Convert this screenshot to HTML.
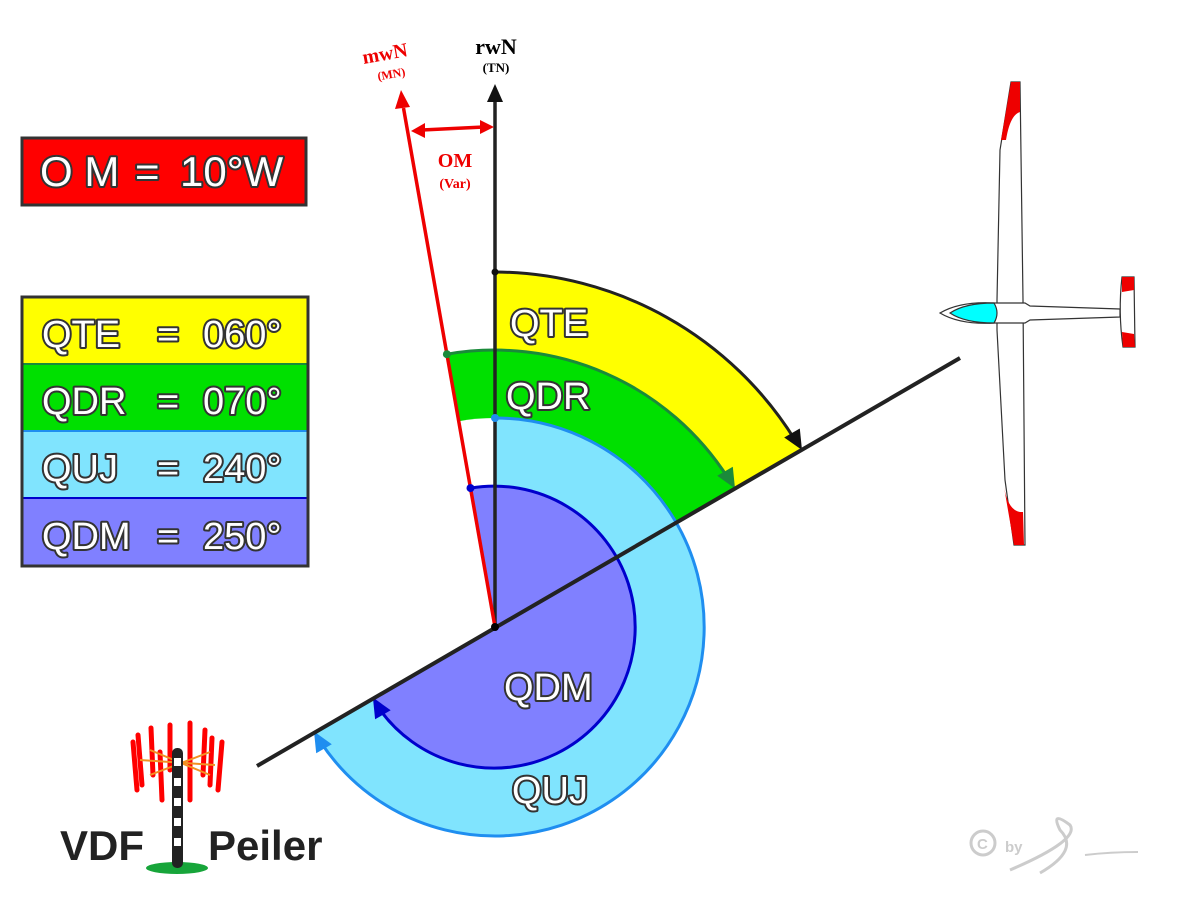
<!DOCTYPE html>
<html><head><meta charset="utf-8"><style>body{margin:0;background:#fff}svg{display:block}
.t{font-family:"Liberation Sans",sans-serif;fill:#fff;stroke:#333;stroke-width:4px;paint-order:stroke;stroke-linejoin:round;font-size:38px}
</style></head><body>
<svg width="1200" height="909" viewBox="0 0 1200 909" xmlns="http://www.w3.org/2000/svg">
<path d="M495,627 L495,272 A355,355 0 0 1 802.4,449.5 Z" fill="#ffff00"/>
<path d="M495,627 L446.9,354.2 A277,277 0 0 1 734.9,488.5 Z" fill="#00e000"/>
<path d="M495,627 L458.7,421.2 A209,209 0 0 1 495,418 Z" fill="#fff"/>
<path d="M495,627 L495,418 A209,209 0 1 1 314,731.5 Z" fill="#80e4fe"/>
<path d="M495,627 L470.5,488.1 A141,141 0 1 1 372.9,697.5 Z" fill="#8080ff"/>
<path d="M495,272 A355,355 0 0 1 795,440" fill="none" stroke="#222" stroke-width="3"/>
<polygon points="802,450 784.2,437.5 799.8,428.5" fill="#111"/>
<path d="M446.9,354.2 A277,277 0 0 1 728,478" fill="none" stroke="#1a8a3a" stroke-width="3"/>
<polygon points="735,488.5 717.2,475.7 732.8,466.7" fill="#1a8a3a"/>
<path d="M495,418 A209,209 0 1 1 320,741" fill="none" stroke="#1f8ef0" stroke-width="3"/>
<polygon points="314,731.5 331.8,744.3 316.2,753.3" fill="#1f8ef0"/>
<path d="M470.5,488.1 A141,141 0 1 1 378,707" fill="none" stroke="#0000cc" stroke-width="3"/>
<polygon points="372.9,697.5 390.7,710.3 375.1,719.3" fill="#0000cc"/>
<line x1="257" y1="766" x2="960" y2="358" stroke="#222" stroke-width="4"/>
<line x1="495" y1="627" x2="495" y2="100" stroke="#222" stroke-width="3.5"/>
<polygon points="495,84 487,102 503,102" fill="#111"/>
<line x1="495" y1="627" x2="403.5" y2="108" stroke="#e00" stroke-width="3.5"/>
<polygon points="401,90 395,109 410,107" fill="#e00"/>
<line x1="422" y1="130" x2="484" y2="127" stroke="#e00" stroke-width="3.5"/>
<polygon points="411,131 425,123 425,138" fill="#e00"/>
<polygon points="494,127 480,120 480,134" fill="#e00"/>
<circle cx="495" cy="627" r="4" fill="#000"/>
<circle cx="495" cy="272" r="3.5" fill="#111"/>
<circle cx="446.9" cy="354.2" r="4" fill="#1a8a3a"/>
<circle cx="495" cy="418" r="4" fill="#1f8ef0"/>
<circle cx="470.5" cy="488.1" r="4" fill="#0000cc"/>
<text x="496" y="54" text-anchor="middle" font-family="Liberation Serif,serif" font-weight="bold" font-size="22">rwN</text>
<text x="496" y="72" text-anchor="middle" font-family="Liberation Serif,serif" font-weight="bold" font-size="13">(TN)</text>
<text x="386" y="60" text-anchor="middle" font-family="Liberation Serif,serif" font-weight="bold" font-size="20" fill="#e00" transform="rotate(-10 386 60)">mwN</text>
<text x="392" y="78" text-anchor="middle" font-family="Liberation Serif,serif" font-weight="bold" font-size="12" fill="#e00" transform="rotate(-10 392 78)">(MN)</text>
<text x="455" y="167" text-anchor="middle" font-family="Liberation Serif,serif" font-weight="bold" font-size="20" fill="#e00">OM</text>
<text x="455" y="188" text-anchor="middle" font-family="Liberation Serif,serif" font-weight="bold" font-size="14" fill="#e00">(Var)</text>
<text class="t" x="510" y="336">QTE</text>
<text class="t" x="506" y="409">QDR</text>
<text class="t" x="504" y="700">QDM</text>
<text class="t" x="512" y="803">QUJ</text>
<rect x="22" y="138" width="284" height="67" fill="#f00" stroke="#333" stroke-width="3"/>
<text class="t" x="40" y="186" style="font-size:42px">O M</text>
<text class="t" x="135" y="186" style="font-size:42px">=</text>
<text class="t" x="180" y="186" style="font-size:42px">10°W</text>
<rect x="22" y="297" width="286" height="67" fill="#ffff00"/>
<rect x="22" y="364" width="286" height="67" fill="#00e000"/>
<rect x="22" y="431" width="286" height="67" fill="#80e4fe"/>
<rect x="22" y="498" width="286" height="68" fill="#8080ff"/>
<line x1="22" y1="364" x2="308" y2="364" stroke="#1a8a3a" stroke-width="2"/>
<line x1="22" y1="431" x2="308" y2="431" stroke="#1f8ef0" stroke-width="2"/>
<line x1="22" y1="498" x2="308" y2="498" stroke="#0000cc" stroke-width="2"/>
<rect x="22" y="297" width="286" height="269" fill="none" stroke="#333" stroke-width="3"/>
<text class="t" x="42" y="347">QTE</text><text class="t" x="157" y="347">=</text><text class="t" x="203" y="347">060°</text>
<text class="t" x="42" y="414">QDR</text><text class="t" x="157" y="414">=</text><text class="t" x="203" y="414">070°</text>
<text class="t" x="42" y="481">QUJ</text><text class="t" x="157" y="481">=</text><text class="t" x="203" y="481">240°</text>
<text class="t" x="42" y="549">QDM</text><text class="t" x="157" y="549">=</text><text class="t" x="203" y="549">250°</text>
<g stroke="#f00" stroke-width="5" stroke-linecap="round">
<line x1="133" y1="742" x2="137" y2="790"/><line x1="138" y1="735" x2="142" y2="785"/><line x1="151" y1="728" x2="153" y2="775"/>
<line x1="160" y1="752" x2="162" y2="800"/><line x1="170" y1="725" x2="170" y2="770"/><line x1="190" y1="723" x2="190" y2="800"/>
<line x1="205" y1="730" x2="203" y2="775"/><line x1="212" y1="738" x2="210" y2="785"/><line x1="222" y1="742" x2="218" y2="790"/>
</g>
<g stroke="#f39020" stroke-width="2"><line x1="140" y1="760" x2="215" y2="765"/><line x1="150" y1="750" x2="210" y2="775"/><line x1="150" y1="775" x2="210" y2="752"/></g>
<ellipse cx="177" cy="868" rx="31" ry="6" fill="#17a53a"/>
<rect x="172" y="748" width="11" height="120" rx="5" fill="#222"/>
<g fill="#fff"><rect x="174" y="758" width="7" height="8"/><rect x="174" y="778" width="7" height="8"/><rect x="174" y="798" width="7" height="8"/><rect x="174" y="818" width="7" height="8"/><rect x="174" y="838" width="7" height="8"/></g>
<text x="60" y="860" font-family="Liberation Sans,sans-serif" font-weight="bold" font-size="42" fill="#222">VDF</text>
<text x="208" y="860" font-family="Liberation Sans,sans-serif" font-weight="bold" font-size="42" fill="#222">Peiler</text>
<g stroke="#333" stroke-width="1.2">
<path d="M1011,82 L1020,82 L1023,300 L1025,545 L1014,545 L1005,480 L997,330 L997,300 L1000,150 Z" fill="#fff"/>
<path d="M1001,140 L1011,82 L1020,82 L1020,112 Q1010,115 1006,140 Z" fill="#e00" stroke="none"/>
<path d="M1004,487 Q1008,510 1020,512 L1023,512 L1024,545 L1014,545 Z" fill="#e00" stroke="none"/>
<path d="M940,313 Q960,301 995,303 L1025,303 L1030,306 L1120,309 L1120,317 L1030,320 L1025,323 L995,323 Q960,325 940,313 Z" fill="#fff"/>
<path d="M950,313 Q965,303 994,303 Q1000,313 994,323 Q965,323 950,313 Z" fill="#0ff"/>
<path d="M1122,277 L1134,277 L1135,347 L1123,347 Q1118,312 1122,277 Z" fill="#fff"/>
<path d="M1122,277 L1134,277 L1134,290 L1122,292 Z" fill="#e00" stroke="none"/>
<path d="M1123,347 L1135,347 L1134,334 L1122,332 Z" fill="#e00" stroke="none"/>
</g>
<g fill="none" stroke="#ccc" stroke-width="3">
<circle cx="983" cy="843" r="12"/>
<path d="M1010,870 Q1080,840 1070,825 Q1050,810 1060,830 Q1080,850 1040,873"/>
<path d="M1085,855 Q1110,852 1138,852" stroke-width="2"/>
</g>
<text x="977" y="849" font-family="Liberation Sans,sans-serif" font-weight="bold" font-size="15" fill="#ccc">C</text>
<text x="1005" y="852" font-family="Liberation Sans,sans-serif" font-weight="bold" font-size="15" fill="#ccc">by</text>
</svg>
</body></html>
